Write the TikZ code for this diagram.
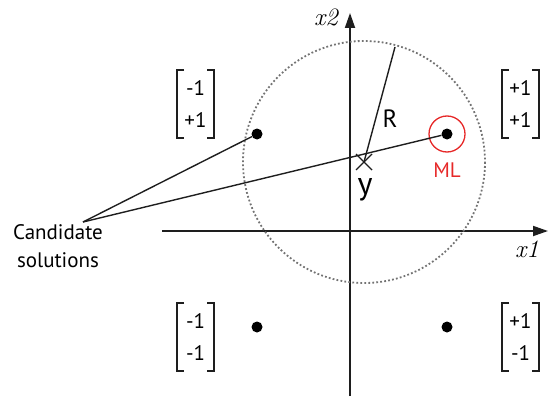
\documentclass[tikz,border=0pt]{standalone}
\usepackage{fontspec}
\setmainfont{PT Sans}
\newfontfamily\mathlike{Latin Modern Roman}
\usetikzlibrary{arrows.meta,calc}
\definecolor{axisgray}{RGB}{30,30,30}
\definecolor{mlred}{RGB}{230,40,40}
\tikzset{
  axis/.style={line width=1.8pt,draw=axisgray,-{Triangle[length=15pt,width=10pt]}},
  thin line/.style={line width=1.4pt,draw=axisgray},
  pt/.style={circle,fill=black,inner sep=0pt,minimum size=11pt},
  bracketline/.style={line width=1.6pt,draw=axisgray},
  vec/.style={font=\fontsize{21}{21}\selectfont,align=center,inner sep=0pt},
  axlabel/.style={font=\mathlike\itshape\fontsize{25}{25}\selectfont,inner sep=0pt}
}
\begin{document}
\begin{tikzpicture}[x=1pt,y=-1pt]
\useasboundingbox (0,0) rectangle (548,396);
% axes
\coordinate (xl) at (162,231);
\coordinate (xr) at (548,231);
\coordinate (yb) at (350,396);
\coordinate (yt) at (350,13);
\draw[axis] (xl) -- (xr);
\draw[axis] (yb) -- (yt);
\node[axlabel] (x1) at (527,249) {x1};
\node[axlabel] (x2) at (326,17) {x2};
% circle
\coordinate (yc) at (364,162);
\draw[black!55,line width=1.8pt,dash pattern=on 1.8pt off 2.2pt] (yc) circle (121);
% points
\node[pt] (p11) at (447,134) {};
\node[pt] (m11) at (257,134) {};
\node[pt] (m1m1) at (257,327) {};
\node[pt] (p1m1) at (447,327) {};
\draw[mlred,line width=1.3pt] (p11) circle (18);
\node[text=mlred,font=\fontsize{21}{21}\selectfont] (ml) at (447,170) {ML};
% radius
\coordinate (rt) at (395,47);
\draw[thin line] (yc) -- (rt);
\node[font=\fontsize{25}{25}\selectfont] (R) at (390,119) {R};
% y cross
\coordinate (c1) at ($(yc)+(-8,-8)$);
\coordinate (c2) at ($(yc)+(8,8)$);
\coordinate (c3) at ($(yc)+(-8,8)$);
\coordinate (c4) at ($(yc)+(8,-8)$);
\draw[thin line] (c1) -- (c2);
\draw[thin line] (c3) -- (c4);
\node[font=\fontsize{32}{32}\selectfont] (ylab) at (365,190) {y};
% candidate
\node[font=\fontsize{21}{28}\selectfont,align=center] (cand) at (58,246) {Candidate\\solutions};
\coordinate (cs) at (83,222);
\draw[thin line] (cs) -- (m11);
\draw[thin line] (cs) -- (p11);
% vectors
\foreach \name/\x/\y/\a/\b in {va/177/70/-1/+1, vb/502/70/+1/+1, vc/177/303/-1/-1, vd/502/303/+1/-1}{
  \draw[bracketline] (\x+7,\y) -- (\x,\y) -- (\x,\y+68) -- (\x+7,\y+68);
  \draw[bracketline] (\x+30,\y) -- (\x+37,\y) -- (\x+37,\y+68) -- (\x+30,\y+68);
  \node[vec] (\name a) at (\x+18.5,\y+18) {\a};
  \node[vec] (\name b) at (\x+18.5,\y+50) {\b};
}
\end{tikzpicture}
\end{document}
